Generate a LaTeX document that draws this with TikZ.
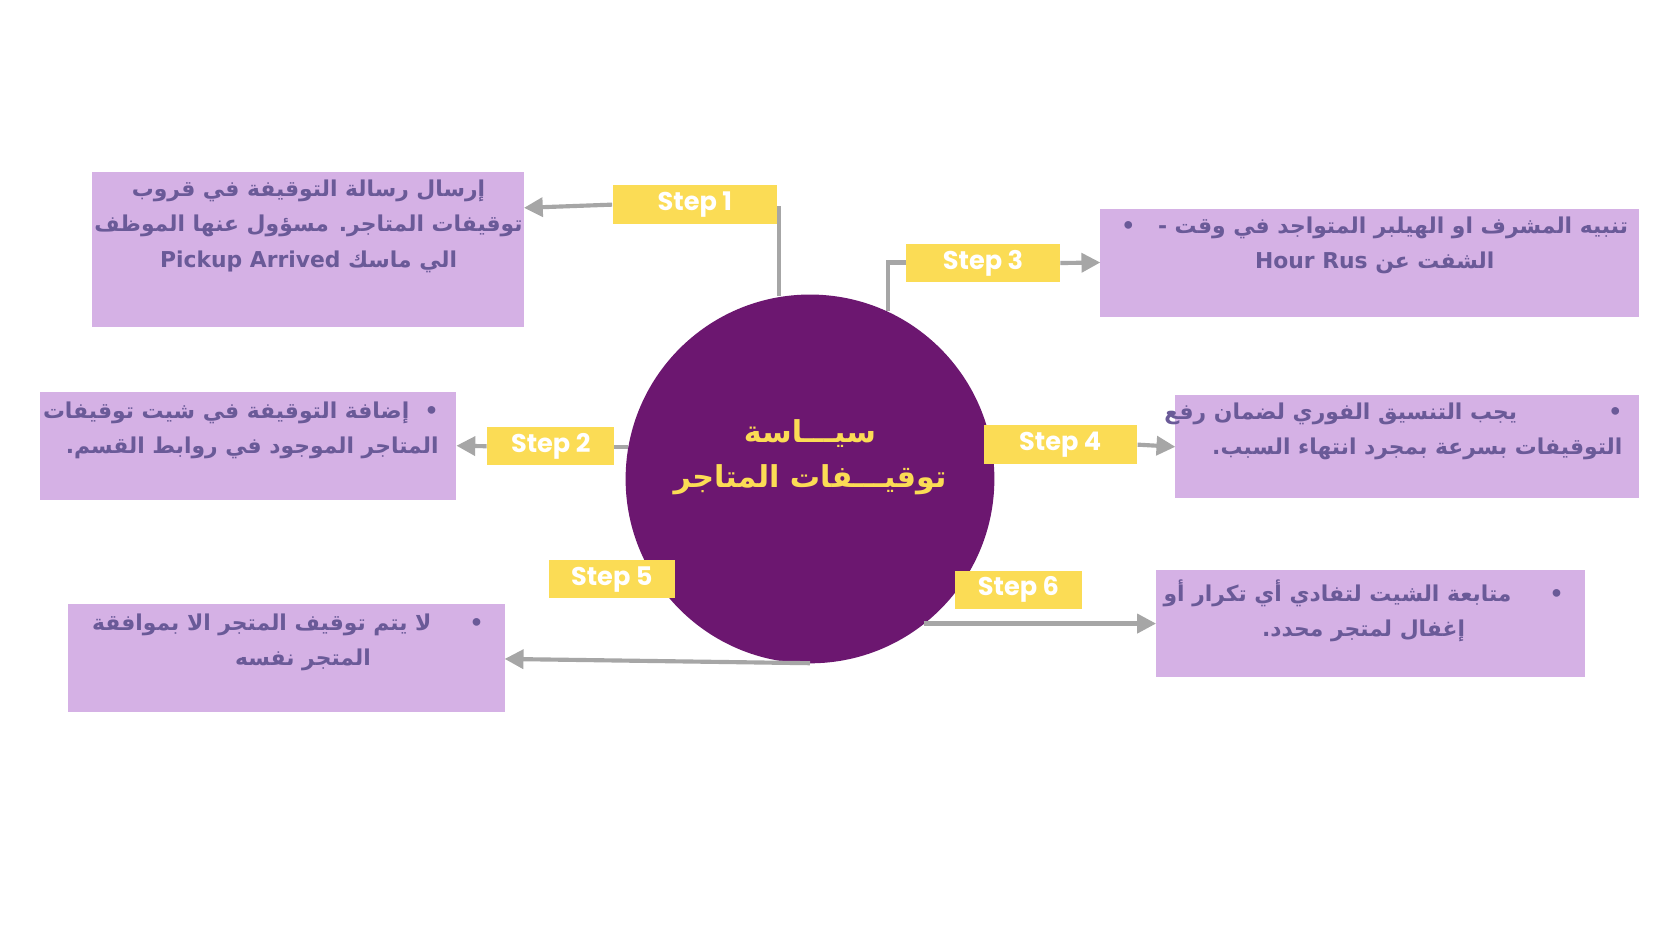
\documentclass[tikz,border=0pt]{standalone}
\usepackage{fontspec}
\usetikzlibrary{arrows.meta}
\setmainfont{DejaVu Sans}
\newfontfamily\arabicfont[Script=Arabic]{DejaVu Sans}
\newfontfamily\stepfont{Poppins}
\TeXXeTstate=1
\definecolor{boxc}{HTML}{D5B1E5}
\definecolor{txtc}{HTML}{6A5A98}
\definecolor{circc}{HTML}{6C1770}
\definecolor{yel}{HTML}{FBDC55}
\definecolor{lin}{HTML}{A6A6A6}
\begin{document}
\begin{tikzpicture}[x=0.01cm,y=-0.01cm,
  infobox/.style={fill=boxc,draw=none},
  stepbox/.style={fill=yel,draw=none,text=white,font=\stepfont\bfseries\fontsize{6.8}{8}\selectfont,inner sep=0pt},
  itext/.style={text=txtc,font=\arabicfont\bfseries\fontsize{5.8}{9.4}\selectfont,inner sep=0pt},
  conn/.style={draw=lin,line width=1.1pt},
  arr/.style={conn,-{Triangle[length=5pt,width=5pt]}}]
\fill[white] (0,0) rectangle (1568,882);
\useasboundingbox (0,0) rectangle (1568,882);
% circle
\node[circle,fill=circc,minimum size=3.44cm,inner sep=0pt] (c) at (756,447) {};
\node[text=yel,font=\arabicfont\bfseries\fontsize{8}{12}\selectfont,align=center] (title) at (756,427) {\beginR سيـــاسة\endR\\ \beginR توقيـــفات المتاجر\endR};
% boxes
\path[infobox] (86,161) rectangle (489,305);
\coordinate (b1) at (489,194);
\node[itext,align=center] (t1) at (288,211) {\beginR إرسال رسالة التوقيفة في قروب\endR\\ \beginR توقيفات المتاجر. مسؤول عنها الموظف\endR\\ \beginR الي ماسك \beginL Pickup Arrived\endL\endR};
\path[infobox] (1027,195) rectangle (1530,296);
\coordinate (b3) at (1027,245);
\node[itext,align=center] (t3) at (1283,229) {\beginR تنبيه المشرف او الهيلبر المتواجد في وقت - \ \ •\endR\\ \beginR الشفت عن \beginL Hour Rus\endL\endR};
\path[infobox] (37,366) rectangle (426,467);
\coordinate (b2) at (426,416);
\node[itext,align=right,anchor=north east] (t2) at (410,374) {\beginR • \ إضافة التوقيفة في شيت توقيفات\endR\\ \beginR المتاجر الموجود في روابط القسم.\ \ \ \ \ \ \endR};
\path[infobox] (1097,369) rectangle (1530,465);
\coordinate (b4) at (1097,417);
\node[itext,align=right,anchor=north east] (t4) at (1515,375) {\beginR • \ \ \ \ \ \ \ \ \ \ \ يجب التنسيق الفوري لضمان رفع\ \ \ \ \ \ \ \ \ \ \ \ \endR\\ \beginR التوقيفات بسرعة بمجرد انتهاء السبب.\ \ \ \ \ \ \ \ \endR};
\path[infobox] (63,564) rectangle (471,665);
\coordinate (b5) at (471,615);
\node[itext,align=center,anchor=north east] (t5) at (452,572) {\beginR • \ \ \ \ لا يتم توقيف المتجر الا بموافقة\endR\\ \beginR المتجر نفسه\ \ \ \ \endR};
\path[infobox] (1079,532) rectangle (1479,632);
\coordinate (b6) at (1079,582);
\node[itext,align=center,anchor=north east] (t6) at (1460,540) {\beginR • \ \ \ \ متابعة الشيت لتفادي أي تكرار أو\endR\\ \beginR إغفال لمتجر محدد.\endR};
% connectors
\coordinate (c1) at (727,276);
\coordinate (k1) at (727,192);
\draw[conn] (c1) -- (k1);
\coordinate (c3) at (829,290);
\coordinate (k3) at (829,245);
\draw[conn] (c3) -- (k3) -- (846,245);
\coordinate (c2) at (586,417);
\draw[conn] (c2) -- (573,417);
\coordinate (c5) at (756,619);
\draw[arr] (c5) -- (b5);
\coordinate (c6) at (862,582);
\draw[arr] (c6) -- (b6);
% steps
\node[stepbox,minimum width=1.53cm,minimum height=0.36cm] (s1) at (648.5,191) {Step 1};
\node[stepbox,minimum width=1.18cm,minimum height=0.35cm] (s2) at (514,416.5) {Step 2};
\node[stepbox,minimum width=1.43cm,minimum height=0.35cm] (s3) at (917.5,245.5) {Step 3};
\node[stepbox,minimum width=1.43cm,minimum height=0.36cm] (s4) at (989.5,415) {Step 4};
\node[stepbox,minimum width=1.18cm,minimum height=0.35cm] (s5) at (571,540.5) {Step 5};
\node[stepbox,minimum width=1.19cm,minimum height=0.35cm] (s6) at (950.5,550.5) {Step 6};
\draw[arr] (s1.west) -- (b1);
\draw[arr] (s2.west) -- (b2);
\draw[arr] (s3.east) -- (b3);
\draw[arr] (s4.east) -- (b4);
\end{tikzpicture}
\end{document}
